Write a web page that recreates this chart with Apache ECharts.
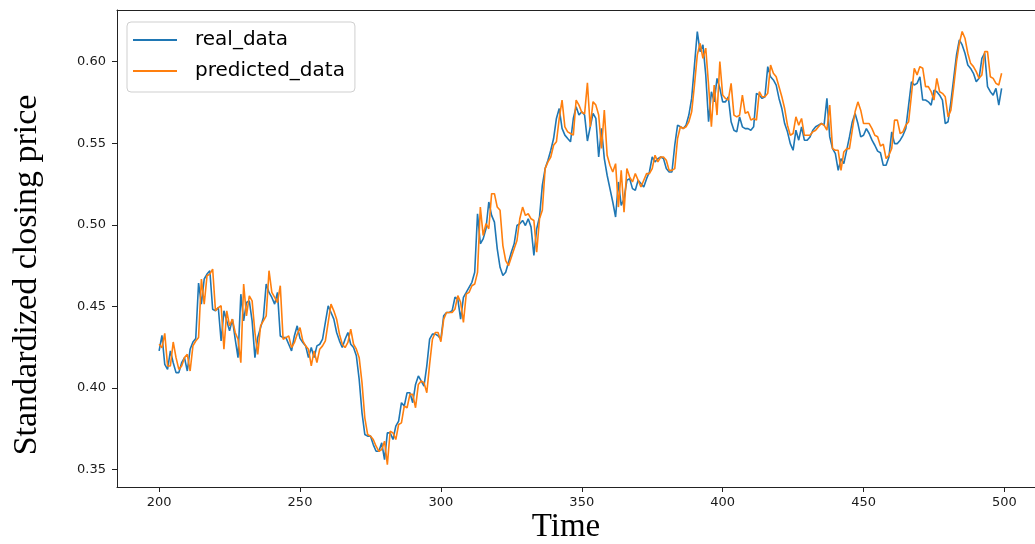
<!DOCTYPE html>
<html>
<head>
<meta charset="utf-8">
<script src="https://cdn.jsdelivr.net/npm/echarts@6/dist/echarts.min.js"></script>
<style>html,body{margin:0;padding:0;background:#fff}#c{width:1035px;height:544px}</style>
</head>
<body>
<div id="c"></div>
<script>
const startTime = 200;
const xTicks = [200, 250, 300, 350, 400, 450, 500];
const yTicks = [0.35, 0.40, 0.45, 0.50, 0.55, 0.60];
const realData = [
0.4227,0.4323,0.4145,0.4114,0.4227,0.4155,0.4094,0.4094,0.4155,0.4186,
0.4104,0.4237,0.4282,0.4303,0.4643,0.4514,0.4668,0.4698,0.4719,0.4483,
0.4473,0.4493,0.4288,0.4473,0.4411,0.4350,0.4422,0.4299,0.4186,0.4575,
0.4411,0.4524,0.4534,0.4411,0.4186,0.4309,0.4370,0.4432,0.4637,0.4586,
0.4555,0.4514,0.4586,0.4319,0.4309,0.4309,0.4268,0.4227,0.4319,0.4381,
0.4304,0.4279,0.4258,0.4186,0.4248,0.4186,0.4258,0.4268,0.4299,0.4402,
0.4504,0.4463,0.4422,0.4340,0.4289,0.4248,0.4299,0.4340,0.4268,0.4248,
0.4197,0.4053,0.3848,0.3715,0.3705,0.3705,0.3653,0.3612,0.3612,0.3664,
0.3561,0.3725,0.3725,0.3684,0.3766,0.3797,0.3910,0.3889,0.3971,0.3971,
0.3910,0.4022,0.4074,0.4043,0.4012,0.4135,0.4299,0.4330,0.4330,0.4320,
0.4299,0.4443,0.4463,0.4463,0.4474,0.4556,0.4545,0.4422,0.4556,0.4586,
0.4617,0.4648,0.4709,0.5068,0.4884,0.4914,0.4976,0.5140,0.5058,0.5017,
0.4853,0.4740,0.4689,0.4709,0.4771,0.4832,0.4884,0.4996,0.5007,0.5027,
0.4996,0.5037,0.4986,0.4812,0.4976,0.5048,0.5242,0.5345,0.5396,0.5457,
0.5529,0.5652,0.5713,0.5591,0.5550,0.5529,0.5509,0.5652,0.5724,0.5673,
0.5693,0.5673,0.5514,0.5600,0.5683,0.5652,0.5416,0.5591,0.5406,0.5304,
0.5222,0.5140,0.5048,0.5263,0.5119,0.5160,0.5273,0.5283,0.5222,0.5212,
0.5273,0.5253,0.5232,0.5283,0.5324,0.5416,0.5386,0.5406,0.5416,0.5406,
0.5345,0.5324,0.5324,0.5488,0.5611,0.5601,0.5591,0.5611,0.5673,0.5775,
0.5980,0.6185,0.6062,0.6103,0.5919,0.5632,0.5816,0.5754,0.5898,0.5837,
0.5754,0.5754,0.5785,0.5632,0.5580,0.5570,0.5662,0.5601,0.5590,0.5590,
0.5580,0.5601,0.5806,0.5795,0.5775,0.5785,0.5970,0.5908,0.5888,0.5857,
0.5775,0.5713,0.5621,0.5570,0.5498,0.5457,0.5580,0.5519,0.5601,0.5519,
0.5519,0.5539,0.5580,0.5601,0.5611,0.5621,0.5611,0.5775,0.5539,0.5467,
0.5437,0.5334,0.5406,0.5375,0.5457,0.5539,0.5631,0.5683,0.5621,0.5539,
0.5549,0.5590,0.5560,0.5519,0.5488,0.5452,0.5442,0.5365,0.5365,0.5416,
0.5570,0.5498,0.5498,0.5519,0.5549,0.5591,0.5734,0.5877,0.5857,0.5867,
0.5908,0.5765,0.5765,0.5754,0.5734,0.5826,0.5816,0.5795,0.5765,0.5621,
0.5632,0.5754,0.5898,0.6042,0.6134,0.6103,0.6052,0.5980,0.5959,0.5929,
0.5877,0.5898,0.6021,0.6052,0.5847,0.5816,0.5795,0.5837,0.5734,0.5837
];
const predictedData = [
0.4268,0.4247,0.4335,0.4135,0.4135,0.4282,0.4186,0.4114,0.4135,0.4186,
0.4206,0.4104,0.4258,0.4288,0.4309,0.4668,0.4514,0.4688,0.4698,0.4729,
0.4473,0.4493,0.4504,0.4237,0.4473,0.4381,0.4422,0.4340,0.4299,0.4155,
0.4637,0.4442,0.4565,0.4534,0.4340,0.4206,0.4381,0.4411,0.4442,0.4719,
0.4586,0.4555,0.4524,0.4627,0.4299,0.4309,0.4319,0.4247,0.4278,0.4329,
0.4370,0.4289,0.4258,0.4238,0.4135,0.4227,0.4156,0.4238,0.4258,0.4289,
0.4402,0.4514,0.4473,0.4422,0.4330,0.4268,0.4248,0.4279,0.4361,0.4268,
0.4238,0.4186,0.4033,0.3817,0.3715,0.3705,0.3684,0.3643,0.3612,0.3623,
0.3674,0.3530,0.3735,0.3725,0.3684,0.3776,0.3786,0.3889,0.3879,0.3961,
0.3961,0.3879,0.4022,0.4043,0.4033,0.3971,0.4145,0.4299,0.4340,0.4340,
0.4284,0.4422,0.4463,0.4463,0.4463,0.4484,0.4566,0.4525,0.4402,0.4576,
0.4586,0.4627,0.4637,0.4709,0.5109,0.4935,0.5007,0.4976,0.5191,0.5191,
0.5109,0.5089,0.4873,0.4781,0.4750,0.4801,0.4853,0.4904,0.5037,0.5109,
0.5058,0.5068,0.5037,0.5027,0.4832,0.5037,0.5089,0.5345,0.5386,0.5416,
0.5488,0.5509,0.5652,0.5765,0.5601,0.5570,0.5560,0.5550,0.5765,0.5734,
0.5690,0.5680,0.5870,0.5600,0.5755,0.5734,0.5673,0.5468,0.5703,0.5427,
0.5365,0.5324,0.5375,0.5109,0.5334,0.5078,0.5345,0.5293,0.5263,0.5314,
0.5273,0.5232,0.5273,0.5314,0.5314,0.5345,0.5427,0.5386,0.5416,0.5416,
0.5396,0.5334,0.5334,0.5345,0.5529,0.5601,0.5591,0.5601,0.5632,0.5693,
0.5857,0.6042,0.6113,0.6021,0.6083,0.5857,0.5601,0.5857,0.5673,0.6001,
0.5796,0.5775,0.5765,0.5867,0.5673,0.5662,0.5672,0.5795,0.5683,0.5693,
0.5642,0.5652,0.5642,0.5816,0.5785,0.5785,0.5806,0.5980,0.5929,0.5908,
0.5847,0.5785,0.5713,0.5611,0.5549,0.5560,0.5662,0.5611,0.5652,0.5549,
0.5549,0.5549,0.5570,0.5580,0.5601,0.5621,0.5611,0.5580,0.5734,0.5467,
0.5457,0.5457,0.5334,0.5447,0.5467,0.5467,0.5580,0.5693,0.5754,0.5703,
0.5621,0.5621,0.5621,0.5590,0.5549,0.5540,0.5483,0.5495,0.5406,0.5427,
0.5468,0.5642,0.5642,0.5560,0.5570,0.5611,0.5632,0.5796,0.5960,0.5919,
0.5970,0.5960,0.5847,0.5847,0.5816,0.5765,0.5898,0.5816,0.5806,0.5785,
0.5662,0.5703,0.5847,0.6001,0.6113,0.6185,0.6144,0.6052,0.5990,0.5970,
0.5939,0.5898,0.5919,0.6062,0.6062,0.5908,0.5898,0.5867,0.5857,0.5929
];

const realPts = realData.map((v, i) => [startTime + i, v]);
const predPts = predictedData.map((v, i) => [startTime + i, v]);

const X_MIN = 185.05, X_MAX = 510.85;
const chart = echarts.init(document.getElementById('c'), null, {renderer: 'canvas'});
const tickFont = {fontFamily: 'DejaVu Sans', fontSize: 13, color: '#1a1a1a'};
const spine = {show: true, onZero: false, lineStyle: {color: '#222', width: 1}};
chart.setOption({
  animation: false,
  backgroundColor: '#fff',
  grid: {left: 117, top: 10, right: 0, bottom: 57, show: false, containLabel: false},
  legend: {
    orient: 'vertical', left: 127, top: 22,
    data: ['real_data', 'predicted_data'],
    icon: 'rect', itemWidth: 44, itemHeight: 2, itemGap: 11,
    textStyle: {fontFamily: 'DejaVu Sans', fontSize: 20, color: '#000', padding: [0, 0, 0, 13]},
    backgroundColor: 'rgba(255,255,255,0.8)',
    borderColor: '#cfcfcf', borderWidth: 1, borderRadius: 4,
    padding: [8, 10, 11, 6]
  },
  xAxis: [{
    type: 'value', min: X_MIN, max: X_MAX, position: 'bottom',
    splitLine: {show: false},
    axisLine: spine,
    axisTick: {show: true, length: 5, lineStyle: {color: '#222'}, customValues: xTicks},
    axisLabel: Object.assign({margin: 9, customValues: xTicks, formatter: v => String(v)}, tickFont)
  }, {
    type: 'value', min: X_MIN, max: X_MAX, position: 'top',
    splitLine: {show: false}, axisLine: spine,
    axisTick: {show: false}, axisLabel: {show: false}
  }],
  yAxis: {
    type: 'value', min: 0.3393, max: 0.6317,
    splitLine: {show: false},
    axisLine: spine,
    axisTick: {show: true, length: 5, lineStyle: {color: '#222'}, customValues: yTicks},
    axisLabel: Object.assign({margin: 11, customValues: yTicks, formatter: v => v.toFixed(2)}, tickFont)
  },
  graphic: [
    {type: 'text', x: 27, y: 275, rotation: Math.PI / 2,
     style: {text: 'Standardized closing price', font: '34px "Liberation Serif"', fill: '#000', textAlign: 'center', textVerticalAlign: 'middle'}},
    {type: 'text', x: 566, y: 527,
     style: {text: 'Time', font: '33px "Liberation Serif"', fill: '#000', textAlign: 'center', textVerticalAlign: 'middle'}}
  ],
  series: [
    {name: 'real_data', type: 'line', data: realPts, showSymbol: false, color: '#1f77b4',
     lineStyle: {width: 1.6, color: '#1f77b4'}, z: 2},
    {name: 'predicted_data', type: 'line', data: predPts, showSymbol: false, color: '#ff7f0e',
     lineStyle: {width: 1.6, color: '#ff7f0e'}, z: 3}
  ]
});
</script>
</body>
</html>
